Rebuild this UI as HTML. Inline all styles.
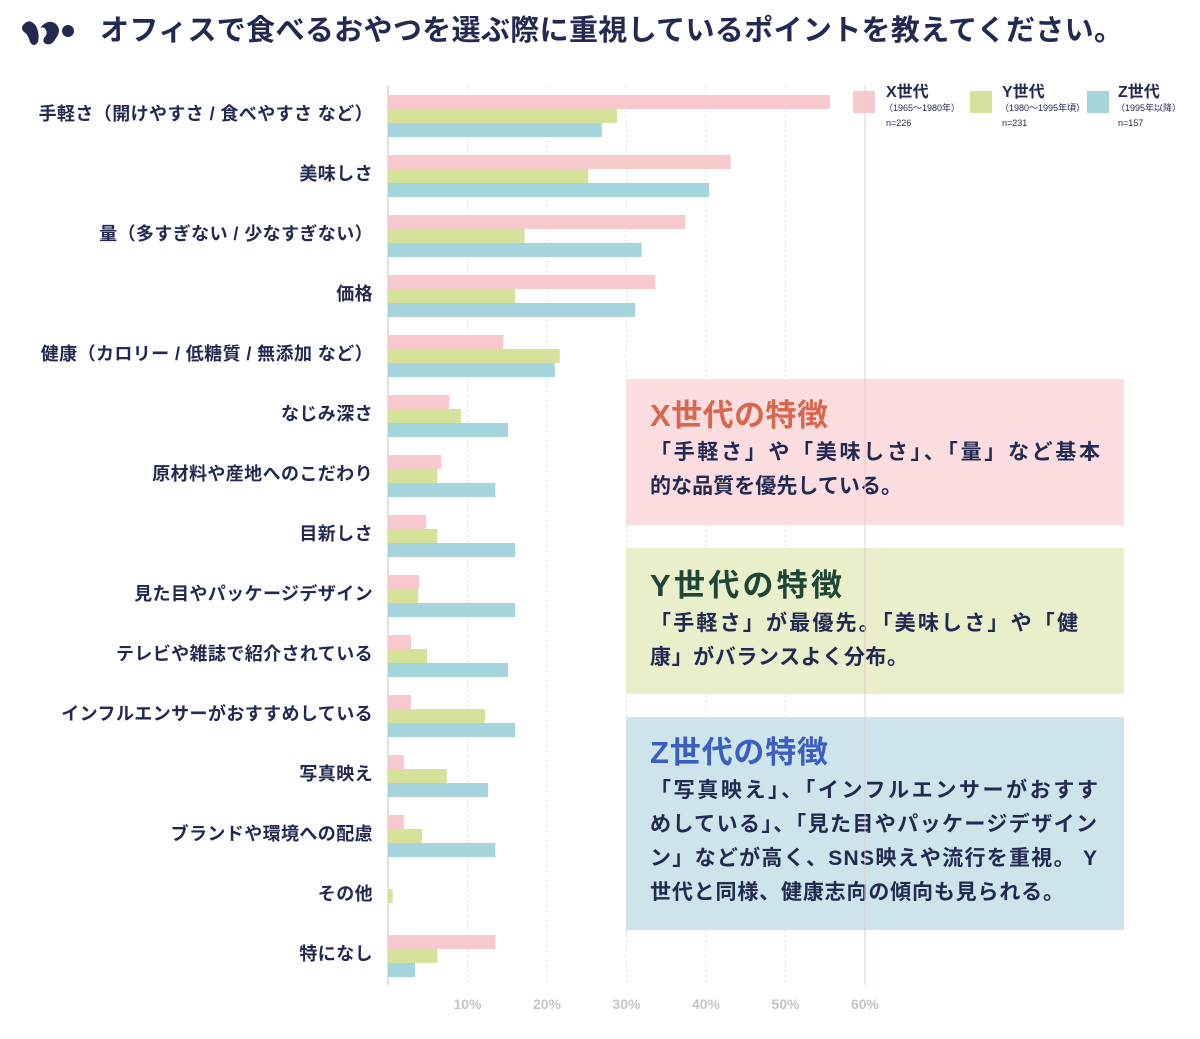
<!DOCTYPE html>
<html><head><meta charset="utf-8"><style>
body{margin:0;background:#fff;width:1200px;height:1034px;overflow:hidden;font-family:"Liberation Sans","Noto Sans CJK JP",sans-serif;color:#232a52}
</style></head><body>
<svg id="c" width="1200" height="1034" xmlns="http://www.w3.org/2000/svg" font-family="Liberation Sans, Noto Sans CJK JP, sans-serif">
<g fill="#232a52">
<path d="M24 24 q6 -6 12 2 q4 8 2 16 q-4 6 -8 0 q-2 -8 -6 -10 q-4 -4 0 -8z"/>
<path d="M40 28 q8 -10 16 -4 q6 6 0 14 q-4 8 -10 6 q-4 -2 -2 -6 q4 -4 2 -8 q-2 -4 -6 -2z"/>
<circle cx="68" cy="31" r="6"/>
</g>
<text x="100" y="40" font-size="29" font-weight="bold" fill="#232a52" textLength="1023" lengthAdjust="spacing">オフィスで食べるおやつを選ぶ際に重視しているポイントを教えてください。</text>
<g id="grid"></g><g id="bars"></g><g id="labels"></g>
<g fill="#232a52">
<rect x="853" y="91" width="22" height="22" fill="#f7c8cc"/>
<text x="886" y="97" font-size="16" font-weight="bold">X世代</text>
<text x="884" y="111" font-size="9">（1965〜1980年）</text><text x="886" y="126" font-size="9">n=226</text>
<rect x="970" y="91" width="22" height="22" fill="#d6e29c"/>
<text x="1002" y="97" font-size="16" font-weight="bold">Y世代</text>
<text x="1000" y="111" font-size="9">（1980〜1995年頃）</text><text x="1002" y="126" font-size="9">n=231</text>
<rect x="1087" y="91" width="22" height="22" fill="#a6d4dc"/>
<text x="1118" y="97" font-size="16" font-weight="bold">Z世代</text>
<text x="1116" y="111" font-size="9">（1995年以降）</text><text x="1118" y="126" font-size="9">n=157</text>
</g>
<g fill="#232a52">
<rect x="626" y="379" width="498" height="146" fill="#fbdde0"/>
<text x="650" y="426" font-size="31" font-weight="bold" fill="#d8674f" textLength="178" lengthAdjust="spacing">X世代の特徴</text>
<text x="650" y="459" font-size="21" font-weight="bold" textLength="450" lengthAdjust="spacing">「手軽さ」や「美味しさ」、「量」など基本</text>
<text x="650" y="493" font-size="21" font-weight="bold" textLength="252" lengthAdjust="spacing">的な品質を優先している。</text>
</g>
<g fill="#232a52">
<rect x="626" y="548" width="498" height="146" fill="#e9efca"/>
<text x="650" y="596" font-size="31" font-weight="bold" fill="#1f4536" textLength="192" lengthAdjust="spacing">Y世代の特徴</text>
<text x="650" y="630" font-size="21" font-weight="bold" textLength="428" lengthAdjust="spacing">「手軽さ」が最優先。「美味しさ」や「健</text>
<text x="650" y="664" font-size="21" font-weight="bold" textLength="258" lengthAdjust="spacing">康」がバランスよく分布。</text>
</g>
<g fill="#232a52">
<rect x="626" y="717" width="498" height="213" fill="#cde4ea"/>
<text x="650" y="763" font-size="31" font-weight="bold" fill="#3d5dc0" textLength="178" lengthAdjust="spacing">Z世代の特徴</text>
<text x="650" y="797" font-size="21" font-weight="bold" textLength="448" lengthAdjust="spacing">「写真映え」、「インフルエンサーがおすす</text>
<text x="650" y="831" font-size="21" font-weight="bold" textLength="447" lengthAdjust="spacing">めしている」、「見た目やパッケージデザイン</text>
<text x="650" y="865" font-size="21" font-weight="bold" textLength="447" lengthAdjust="spacing">ン」などが高く、SNS映えや流行を重視。 Y</text>
<text x="650" y="899" font-size="21" font-weight="bold" textLength="414" lengthAdjust="spacing">世代と同様、健康志向の傾向も見られる。</text>
</g>
<g id="top"></g>
</svg>
<script>
const categories=["手軽さ（開けやすさ / 食べやすさ など）","美味しさ","量（多すぎない / 少なすぎない）","価格","健康（カロリー / 低糖質 / 無添加 など）","なじみ深さ","原材料や産地へのこだわり","目新しさ","見た目やパッケージデザイン","テレビや雑誌で紹介されている","インフルエンサーがおすすめしている","写真映え","ブランドや環境への配慮","その他","特になし"];
const seriesX=[55.6,43.1,37.4,33.6,14.5,7.7,6.7,4.8,3.9,2.9,2.9,2.0,2.0,0,13.5];
const seriesY=[28.8,25.2,17.2,16.0,21.6,9.2,6.2,6.2,3.8,4.9,12.2,7.4,4.3,0.6,6.2];
const seriesZ=[26.9,40.4,31.9,31.1,21.0,15.1,13.5,16.0,16.0,15.1,16.0,12.6,13.5,0,3.4];
const ticks=[10,20,30,40,50,60];
const tickLabels=["10%","20%","30%","40%","50%","60%"];
const NS="http://www.w3.org/2000/svg";
const x0=388,perPct=7.95;
function xs(v){return x0+v*perPct;}
function cy(i){return 116+60*i;}
function mk(tag,attrs,parent){const e=document.createElementNS(NS,tag);for(const k in attrs)e.setAttribute(k,attrs[k]);document.getElementById(parent).appendChild(e);return e;}
ticks.forEach((t,i)=>{
 if(t!==60){const l=mk('line',{x1:xs(t),x2:xs(t),y1:85,y2:985,stroke:'#dcdcdc','stroke-dasharray':'2,3'},'grid');
 
 }
 else{const l=mk('line',{x1:xs(t),x2:xs(t),y1:85,y2:985,stroke:'#efc4c8','stroke-width':1},'top');
 
 }
 const tx=mk('text',{x:xs(t),y:1009,'font-size':14,'font-weight':'bold',fill:'#c4c4c4','text-anchor':'middle'},'labels');
 tx.textContent=tickLabels[i];
 
 
});
const ax=mk('line',{x1:x0,x2:x0,y1:85,y2:985,stroke:'#d8d8d8','stroke-width':1.5},'grid');


const cols=['#f7c8cc','#d6e29c','#a6d4dc'];
categories.forEach((c,i)=>{
 [seriesX,seriesY,seriesZ].forEach((s,j)=>{
  const r=mk('rect',{x:x0,y:cy(i)-21+14*j,width:Math.max(0,xs(s[i])-x0),height:14,fill:cols[j]},'bars');
  
  
 });
 const t=mk('text',{x:373,y:cy(i)+4,'font-size':18,'font-weight':'bold',fill:'#232a52','text-anchor':'end','letter-spacing':0.4},'labels');
 t.textContent=c;
 
 
});
</script>
</body></html>
